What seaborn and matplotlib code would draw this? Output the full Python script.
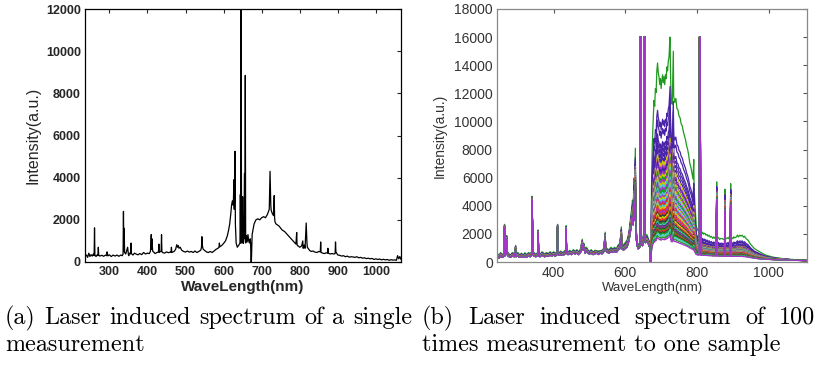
import numpy as np
import pandas as pd
import matplotlib
matplotlib.use("Agg")
import matplotlib.pyplot as plt
import seaborn as sns

sns.set_style("white")
plt.rcParams['font.family'] = ['Liberation Sans', 'DejaVu Sans']

# ---------------- (a) single measurement ----------------
left_wl = [236, 240, 243, 246, 249, 252, 255, 258, 260, 261, 262, 265, 268, 270, 271, 272, 275, 280, 285, 290,
           293, 294, 296, 300, 305, 310, 315, 320, 325, 330, 334, 336, 337, 338, 339, 340, 343, 348, 350, 351,
           353, 356, 357, 358, 362, 366, 370, 375, 380, 385, 390, 395, 400, 405, 408, 410, 411, 412, 413, 414,
           416, 420, 425, 429, 430, 431, 434, 436, 437, 438, 440, 445, 450, 455, 460, 462, 463, 464, 470, 474,
           477, 479, 481, 483, 486, 490, 495, 500, 505, 510, 515, 520, 525, 530, 535, 540, 542, 543, 544, 546,
           550, 555, 560, 565, 570, 575, 580, 585, 588, 589, 590, 595, 600, 605, 610, 613, 616, 619, 621, 623,
           625, 626, 627, 628, 629, 630, 631, 633, 636, 640, 643, 644, 645, 646, 647, 648, 650, 651, 652, 653,
           655, 656, 657, 658, 660, 662, 664, 666, 668, 670, 671, 672, 673, 675, 677, 680, 685, 690, 695, 700,
           705, 710, 715, 718, 720, 722, 723, 724, 725, 728, 731, 733, 734, 735, 738, 742, 746, 750, 755, 760,
           765, 770, 775, 780, 785, 790, 792, 793, 794, 797, 800, 805, 808, 809, 810, 812, 814, 817, 819, 820,
           822, 826, 830, 835, 840, 845, 850, 854, 855, 856, 860, 865, 870, 873, 874, 875, 880, 885, 890, 893,
           894, 895, 900, 905, 910, 915, 920, 925, 930, 935, 940, 945, 950, 955, 960, 965, 970, 975, 980, 985,
           990, 995, 1000, 1005, 1010, 1015, 1020, 1025, 1030, 1035, 1040, 1045, 1050, 1054, 1057, 1060, 1063, 1066]
left_int = [250, 330, 220, 420, 260, 350, 280, 380, 300, 1620, 330, 260, 340, 300, 700, 330, 280, 320, 270, 330,
            300, 480, 290, 340, 260, 330, 280, 330, 270, 330, 300, 380, 2400, 500, 1600, 450, 380, 700, 350, 300,
            420, 380, 900, 400, 330, 420, 380, 340, 400, 350, 450, 380, 420, 400, 520, 1300, 600, 1100, 700, 500,
            480, 400, 450, 480, 850, 450, 500, 520, 1300, 480, 450, 420, 480, 440, 470, 460, 700, 450, 500, 600,
            820, 700, 780, 650, 700, 560, 500, 470, 520, 470, 500, 450, 520, 450, 500, 560, 700, 1200, 820, 620,
            550, 480, 450, 500, 450, 520, 600, 650, 700, 900, 720, 780, 880, 1000, 1250, 1500, 1800, 2300, 2700, 2900,
            2700, 3000, 3900, 2500, 3100, 5250, 1800, 900, 700, 800, 900, 3200, 900, 12000, 2900, 900, 3100, 1000, 880, 1000,
            4200, 1100, 8850, 900, 1250, 950, 1300, 1000, 900, 1100, 900, 0, 0, 1300, 1500, 1800, 2000, 2050, 2000, 2100,
            2150, 2100, 2250, 2400, 2500, 4300, 3600, 2700, 2450, 2300, 2200, 3150, 2100, 1900, 1800, 1750, 1700, 1600, 1500, 1450,
            1350, 1250, 1150, 1050, 950, 850, 1400, 820, 780, 750, 700, 760, 1000, 650, 720, 800, 650, 1850, 900, 700,
            650, 550, 500, 520, 470, 450, 500, 480, 950, 460, 420, 400, 440, 420, 650, 420, 380, 400, 380, 400,
            950, 480, 330, 320, 280, 300, 250, 280, 230, 250, 240, 220, 250, 200, 220, 180, 200, 160, 180, 150,
            170, 120, 150, 120, 140, 100, 130, 100, 120, 80, 110, 90, 100, 80, 300, 150, 260, 120]

# ---------------- (b) 100 measurements ----------------
# below the 670 nm notch: shared line spectrum, little run-to-run change
pre_wl = [242, 248, 252, 256, 260, 262, 263, 264, 266, 268, 269, 270, 273, 276, 280, 285, 290, 294, 295, 300,
          305, 310, 315, 320, 325, 330, 335, 339, 340, 341, 342, 345, 350, 356, 357, 358, 362, 368, 375, 380,
          385, 390, 395, 400, 405, 410, 411, 412, 416, 420, 425, 430, 434, 435, 436, 440, 445, 450, 455, 460,
          465, 470, 475, 480, 482, 485, 488, 492, 495, 500, 505, 510, 515, 520, 525, 530, 535, 540, 544, 545,
          550, 555, 560, 565, 570, 575, 580, 585, 589, 590, 595, 600, 605, 610, 614, 618, 620, 622, 624, 625,
          628, 629, 632, 636, 640, 641, 643, 644, 648, 652, 653, 655, 656, 660, 665, 668, 670, 672]
pre_base = [350, 250, 400, 300, 350, 400, 2400, 400, 500, 1000, 1600, 500, 400, 350, 300, 400, 350, 900, 350, 400,
            300, 350, 300, 380, 300, 400, 350, 500, 4400, 2600, 500, 400, 350, 400, 2000, 400, 350, 450, 350, 400,
            380, 450, 400, 450, 400, 500, 2400, 500, 450, 500, 450, 500, 600, 2300, 600, 500, 550, 500, 600, 550,
            600, 500, 650, 1200, 800, 900, 600, 700, 600, 550, 600, 500, 550, 600, 500, 600, 550, 700, 1700, 800,
            650, 600, 700, 650, 700, 650, 800, 900, 1800, 900, 800, 900, 1000, 1400, 2000, 2600, 3000, 2500, 4000, 2800,
            5300, 2500, 1200, 900, 1000, 16000, 16000, 1200, 1100, 1500, 16000, 16000, 1300, 1400, 1200, 1000, 0, 0]
pre_hump = [0.02, 0.015, 0.02, 0.015, 0.02, 0.02, 0.02, 0.02, 0.02, 0.02, 0.02, 0.02, 0.02, 0.015, 0.015, 0.02, 0.015, 0.02, 0.015, 0.02,
            0.015, 0.02, 0.015, 0.02, 0.015, 0.02, 0.015, 0.02, 0.02, 0.02, 0.02, 0.02, 0.015, 0.02, 0.02, 0.02, 0.015, 0.02, 0.015, 0.02,
            0.015, 0.02, 0.015, 0.02, 0.015, 0.02, 0.02, 0.02, 0.015, 0.02, 0.015, 0.02, 0.02, 0.02, 0.02, 0.015, 0.02, 0.015, 0.02, 0.015,
            0.02, 0.015, 0.02, 0.03, 0.025, 0.03, 0.02, 0.025, 0.02, 0.015, 0.02, 0.015, 0.02, 0.015, 0.02, 0.015, 0.02, 0.02, 0.03, 0.02,
            0.02, 0.02, 0.025, 0.02, 0.025, 0.02, 0.03, 0.03, 0.05, 0.03, 0.03, 0.035, 0.04, 0.05, 0.07, 0.09, 0.1, 0.08, 0.14, 0.09,
            0.2, 0.07, 0.03, 0.02, 0.025, 0.0, 0.0, 0.03, 0.03, 0.05, 0.0, 0.0, 0.04, 0.04, 0.03, 0.03, 0.0, 0.0]
# above the notch: broad band whose height changes from shot to shot (relative shape)
band_wl = [673, 675, 677, 680, 682, 684, 686, 688, 690, 692, 694, 696, 698, 700, 702, 704, 706, 708, 710, 712,
           714, 716, 718, 720, 722, 724, 725, 726, 728, 731, 734, 735, 738, 741, 744, 747, 750, 753, 756, 759,
           762, 765, 768, 771, 774, 777, 780, 783, 786, 789, 791, 792, 795, 798, 802, 806, 807, 809, 810, 813,
           816, 818, 822, 825, 828, 831, 834, 837, 840, 844, 847, 850, 854, 855, 856, 860, 863, 866, 870, 874,
           877, 878, 879, 882, 885, 888, 890, 893, 894, 895, 898, 900, 903, 906, 910, 913, 916, 920, 923, 926,
           930, 933, 936, 940, 943, 946, 950, 955, 960, 965, 970, 980, 990, 1000, 1010, 1020, 1030, 1040, 1050, 1060,
           1070, 1080, 1090, 1100, 1107]
band_base = [300] * 56 + [16000, 16000] + [
             300, 300, 300, 300, 300, 300, 290, 290, 290, 290,
             290, 280, 280, 280, 280, 4300, 280, 280, 270, 270,
             270, 270, 270, 3500, 270, 260, 260, 260, 260, 260,
             3900, 260, 250, 250, 250, 250, 240, 240, 240, 230,
             230, 230, 220, 220, 220, 210, 210, 210, 200, 200,
             190, 180, 170, 160, 160, 150, 150, 140, 140, 130,
             130, 120, 120, 110, 110, 100, 100]
band_hump = [0.35, 0.55, 0.66, 0.80, 0.77, 0.86, 0.84, 0.95, 0.99, 0.94,
             0.92, 0.88, 0.91, 0.86, 0.90, 0.93, 0.89, 0.92, 0.88, 0.93,
             0.91, 0.97, 0.95, 1.00, 1.02, 1.10, 1.15, 0.95, 0.80, 0.78,
             1.05, 0.82, 0.79, 0.81, 0.76, 0.75, 0.72, 0.71, 0.68, 0.67,
             0.64, 0.62, 0.60, 0.57, 0.55, 0.52, 0.48, 0.46, 0.43, 0.40,
             0.50, 0.35, 0.25, 0.16, 0.14, 0.13, 0.0, 0.0, 0.13, 0.12,
             0.13, 0.12, 0.125, 0.115, 0.12, 0.11, 0.115, 0.105, 0.11, 0.10,
             0.108, 0.10, 0.105, 0.10, 0.10, 0.105, 0.095, 0.10, 0.10, 0.095,
             0.10, 0.12, 0.10, 0.10, 0.105, 0.10, 0.11, 0.10, 0.12, 0.10,
             0.105, 0.10, 0.11, 0.105, 0.11, 0.12, 0.11, 0.12, 0.115, 0.12,
             0.11, 0.115, 0.105, 0.10, 0.095, 0.085, 0.075, 0.065, 0.055, 0.05,
             0.045, 0.035, 0.025, 0.02, 0.015, 0.012, 0.01, 0.008, 0.006, 0.005,
             0.004, 0.003, 0.002, 0.002, 0.0]
hump_peak = [14000, 10600, 9900, 8900, 8500, 8100, 7700, 7400, 7100, 6900, 6600, 6400, 6200, 6000, 5800,
             5600, 5400, 5200, 5000, 4800, 4650, 4500, 4350, 4200, 4050, 3900, 3750, 3600, 3450, 3300,
             3150, 3000, 2850, 2700, 2600, 2500, 2400, 2300, 2200, 2100, 2000, 1900, 1750, 1600, 1450]
saturation = 16000

G, B, M, Y, C, R, K = '#1f9a1f', '#4a24a8', '#a434c8', '#cccc00', '#44c8d0', '#e8301c', '#3c3c3c'
run_colors = [G, B, B, B, B, B, B, Y, M, B, M, Y, G, M, Y,
              C, M, G, C, M, Y, C, M, R, C, Y, R, M, R, K,
              Y, R, K, G, C, K, M, K, G, R, K, G, C, G, M]

# ---------------- figure ----------------
fig = plt.figure(figsize=(8.19, 3.65), dpi=100)
ax1 = fig.add_axes([85/819, 1-262/365, 316/819, 253/365])
ax2 = fig.add_axes([497/819, 1-262/365, 310/819, 253/365])

sns.lineplot(x=left_wl, y=left_int, ax=ax1, color='black', lw=0.9, estimator=None, sort=False)
ax1.set_xlim(236, 1066)
ax1.set_ylim(0, 12000)
ax1.set_xticks(range(300, 1001, 100))
ax1.set_yticks(range(0, 12001, 2000))
ax1.tick_params(direction='in', length=3, top=True, right=True, labelsize=9, pad=3, width=0.8)
for lab in ax1.get_xticklabels() + ax1.get_yticklabels():
    lab.set_fontweight('bold')
for s in ax1.spines.values():
    s.set_color('black'); s.set_linewidth(0.9)
ax1.set_xlabel('WaveLength(nm)', fontsize=11, fontweight='bold', labelpad=1)
ax1.set_ylabel('Intensity(a.u.)', fontsize=11.5, labelpad=4)

wl = np.array(pre_wl + band_wl, dtype=float)
base = np.array(pre_base + band_base, dtype=float)
hump = np.array(pre_hump + band_hump, dtype=float)
assert len(wl) == len(base) == len(hump)
frames = []
for i, pk in enumerate(hump_peak):
    frames.append(pd.DataFrame({'wl': wl, 'I': np.clip(base + pk * hump, 0, saturation), 'run': i}))
df = pd.concat(frames, ignore_index=True)
order = list(range(len(hump_peak)))
sns.lineplot(data=df, x='wl', y='I', hue='run', hue_order=order,
             palette=dict(zip(order, run_colors)),
             estimator=None, sort=False, lw=0.9, legend=False, ax=ax2)
ax2.set_xlim(242, 1107)
ax2.set_ylim(0, 18000)
ax2.set_xticks([400, 600, 800, 1000])
ax2.set_yticks(range(0, 18001, 2000))
ax2.tick_params(direction='in', length=3, top=True, right=True, labelsize=10, pad=3,
                colors='#555555', labelcolor='#333333', width=0.8)
for s in ax2.spines.values():
    s.set_color('#888888'); s.set_linewidth(0.9)
ax2.set_xlabel('WaveLength(nm)', fontsize=9.5, color='#333333', labelpad=1)
ax2.set_ylabel('Intensity(a.u.)', fontsize=10, color='#333333', labelpad=5)

# ---------------- captions ----------------
cap_a1 = '(a) Laser induced spectrum of a single'
cap_a2 = 'measurement'
cap_b1 = '(b) Laser induced spectrum of 100'
cap_b2 = 'times measurement to one sample'

probe = fig.text(0, 0, cap_a1, family='cmr10', fontsize=10)
fig.canvas.draw()
r = fig.canvas.get_renderer()
cap_size = 10 * (405 / probe.get_window_extent(r).width)
probe.remove()
cap_font = dict(family='cmr10', fontsize=cap_size, color='black', va='baseline')

def justified(line, x0, x1, y):
    words = line.split()
    texts = [fig.text(0, y, w, **cap_font) for w in words]
    fig.canvas.draw()
    rr = fig.canvas.get_renderer()
    widths = [t.get_window_extent(rr).width for t in texts]
    gap = (x1 - x0 - sum(widths)) / (len(words) - 1)
    x = x0
    for t, w in zip(texts, widths):
        t.set_x(x / 819)
        x += w + gap

justified(cap_a1, 5, 412, 1 - 324/365)
fig.text(5/819, 1 - 351/365, cap_a2, **cap_font)
justified(cap_b1, 422, 815, 1 - 324/365)
fig.text(422/819, 1 - 351/365, cap_b2, **cap_font)

fig.savefig('out.png', dpi=100)
